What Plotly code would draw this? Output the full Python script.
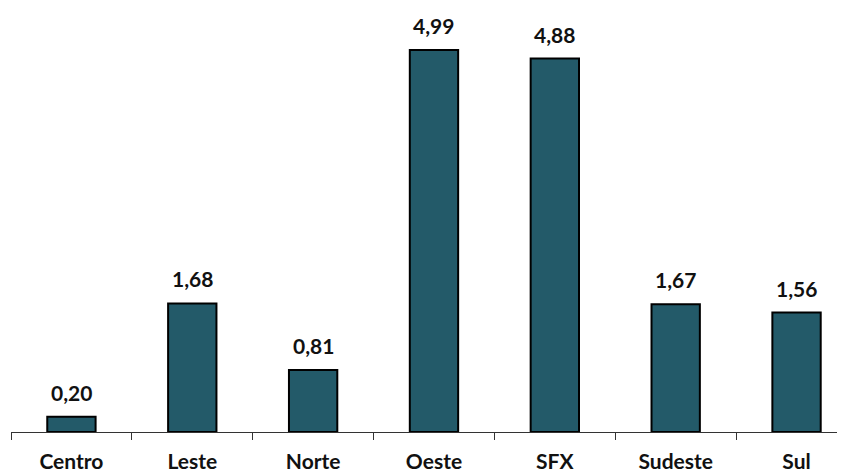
import plotly.graph_objects as go

categories = ["Centro", "Leste", "Norte", "Oeste", "SFX", "Sudeste", "Sul"]
values = [0.20, 1.68, 0.81, 4.99, 4.88, 1.67, 1.56]
labels = [f"{v:.2f}".replace(".", ",") for v in values]

FONT = dict(family="Lato", size=21, color="#111111", weight="bold")

fig = go.Figure()
fig.add_trace(go.Bar(
    x=categories, y=values,
    marker=dict(color="#235A69", line=dict(color="#000000", width=2)),
    width=0.4,
))
for c, v, t in zip(categories, values, labels):
    fig.add_annotation(x=c, y=v, text=t, showarrow=False, yanchor="bottom",
                       yshift=10, font=FONT)

fig.update_layout(
    width=845, height=473,
    margin=dict(l=3, r=8, t=0, b=49, autoexpand=False),
    paper_bgcolor="white", plot_bgcolor="white",
    showlegend=False,
    font=FONT,
    xaxis=dict(type="category", range=[-0.5, 6.401], tickson="boundaries",
               ticks="outside", ticklen=7, tickcolor="#333", tickwidth=1,
               showline=True, linecolor="#333", linewidth=1, showgrid=False,
               tickfont=FONT, automargin=False, ticklabelstandoff=11),
    yaxis=dict(range=[0, 5.54], visible=False, showgrid=False),
)
fig.write_html("out.html")
